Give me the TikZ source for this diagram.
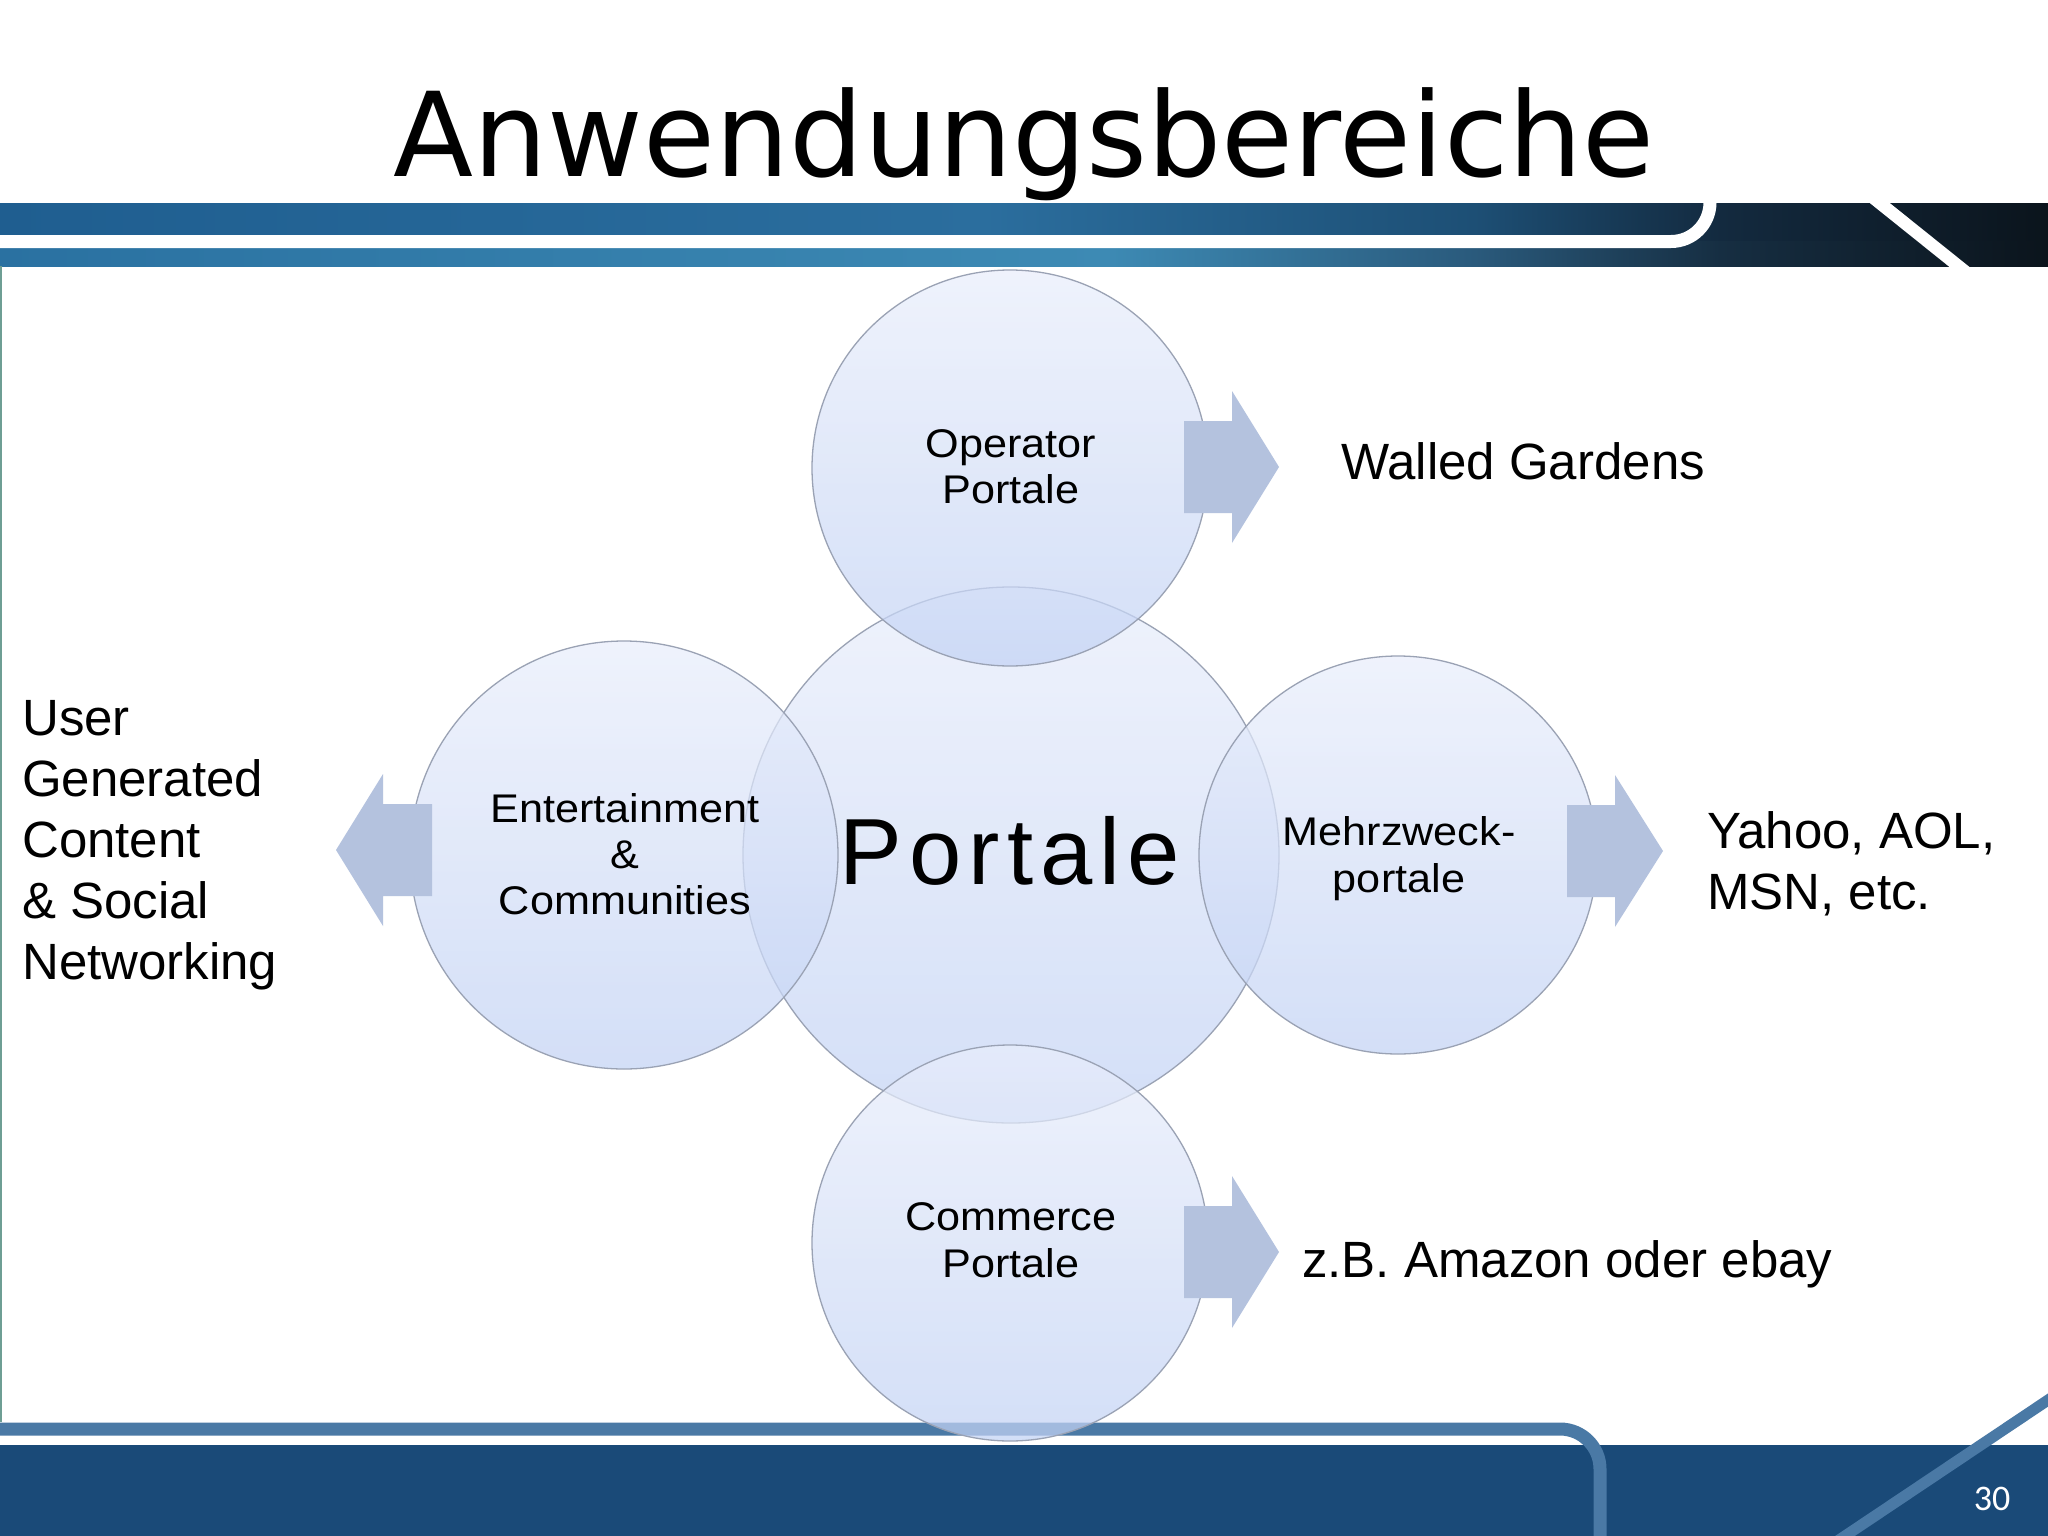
\documentclass[tikz,border=0pt]{standalone}
\usepackage{fontspec}
\setmainfont{Liberation Sans}
\newfontfamily\titlefont{DejaVu Sans}
\newfontfamily\circfont[FakeStretch=1.08]{Liberation Sans}
\newfontfamily\bigfont[LetterSpace=7.5]{Liberation Sans}
\newfontfamily\numfont{Carlito}
\definecolor{htA}{HTML}{1F5E90}
\definecolor{htB}{HTML}{2B6E9E}
\definecolor{htC}{HTML}{1D4F75}
\definecolor{htD}{HTML}{132A3F}
\definecolor{htE}{HTML}{0B141C}
\definecolor{hbA}{HTML}{2A71A1}
\definecolor{hbB}{HTML}{3D8AB4}
\definecolor{hbC}{HTML}{2A5A7C}
\definecolor{hbD}{HTML}{162E42}
\definecolor{hbE}{HTML}{0B141C}
\definecolor{footdark}{HTML}{1A4A78}
\definecolor{footline}{HTML}{4A79A5}
\definecolor{leftline}{HTML}{6E9E94}
\definecolor{bubtop}{HTML}{E9EEFB}
\definecolor{bubbot}{HTML}{C3D3F5}
\definecolor{bubline}{HTML}{9AA2B4}
\definecolor{arrowc}{HTML}{B4C2DE}
\pgfdeclarehorizontalshading{hdrtop}{100bp}{color(0bp)=(htA); color(25bp)=(htA); color(49bp)=(htB); color(61bp)=(htC); color(67bp)=(htD); color(75bp)=(htE); color(100bp)=(htE)}
\pgfdeclarehorizontalshading{hdrbot}{100bp}{color(0bp)=(hbA); color(25bp)=(hbA); color(52bp)=(hbB); color(61bp)=(hbC); color(67bp)=(hbD); color(75bp)=(hbE); color(100bp)=(hbE)}
\tikzset{
  bubble/.style={circle, draw=bubline, line width=1.3pt, top color=bubtop, bottom color=bubbot, fill opacity=0.72, inner sep=0pt, outer sep=0pt},
  blockarrow/.style={fill=arrowc},
  ctext/.style={anchor=base, inner sep=0pt, font=\circfont\fontsize{40}{48}\selectfont},
  rtext/.style={anchor=base west, inner sep=0pt, font=\fontsize{51}{61}\selectfont},
}
\begin{document}
\begin{tikzpicture}[x=1pt,y=-1pt]
\useasboundingbox (0,0) rectangle (2048,1536);
\fill[white] (0,0) rectangle (2048,1536);
% header
\shade[shading=hdrtop] (0,203) rectangle (2048,241.5);
\shade[shading=hdrbot] (0,241.5) rectangle (2048,266);
\draw[white, line width=13pt, rounded corners=39pt] (-10,241.5) -- (1710,241.5) -- (1710,190);
\draw[white, line width=12.5pt] (1871,196) -- (1967,273);
% footer
\fill[footdark] (0,1445) rectangle (2048,1536);
\draw[footline, line width=13pt, rounded corners=40pt] (-10,1429) -- (1600,1429) -- (1600,1550);
\draw[footline, line width=11pt] (1830,1546) -- (2063,1390);
\draw[leftline, line width=2pt] (1,266) -- (1,1422);
% title
\node[anchor=base, inner sep=0pt, font=\titlefont\fontsize{117}{140}\selectfont] (title) at (1024,176) {Anwendungsbereiche};
\node[anchor=base, inner sep=0pt, text=white, font=\numfont\fontsize{36}{40}\selectfont] (pnum) at (1992,1510) {30};
% circles
\node[bubble, minimum size=536pt] (cen) at (1011,855) {};
\node[bubble, minimum size=428pt] (lef) at (624,855) {};
\node[bubble, minimum size=398pt] (rig) at (1398,855) {};
\node[bubble, minimum size=396pt] (top) at (1010,468) {};
\node[bubble, minimum size=396pt] (bot) at (1010,1243) {};
% block arrows
\fill[blockarrow] (1184,421) -- (1232,421) -- (1232,391) -- (1279,467) -- (1232,543) -- (1232,513) -- (1184,513) -- cycle;
\fill[blockarrow] (1567,805) -- (1615,805) -- (1615,775) -- (1663,851) -- (1615,927) -- (1615,897) -- (1567,897) -- cycle;
\fill[blockarrow] (1184,1206) -- (1232,1206) -- (1232,1176) -- (1279,1252) -- (1232,1328) -- (1232,1298) -- (1184,1298) -- cycle;
\fill[blockarrow] (432,804) -- (383,804) -- (383,774) -- (336,850) -- (383,926) -- (383,896) -- (432,896) -- cycle;
% circle texts
\node[ctext] (op1) at (1011,457) {Operator};
\node[ctext] (op2) at (1011,503) {Portale};
\node[ctext] (en1) at (625,822) {Entertainment};
\node[ctext] (en2) at (625,868) {\&};
\node[ctext] (en3) at (625,914) {Communities};
\node[ctext] (me1) at (1399,845) {Mehrzweck-};
\node[ctext] (me2) at (1399,892) {portale};
\node[ctext] (co1) at (1011,1230) {Commerce};
\node[ctext] (co2) at (1011,1277) {Portale};
\node[anchor=base, inner sep=0pt, font=\bigfont\fontsize{94}{110}\selectfont] (big) at (1010,884) {Portale};
% outer texts
\node[rtext] (wg) at (1341,479) {Walled Gardens};
\node[rtext] (ya1) at (1707,848) {Yahoo, AOL,};
\node[rtext] (ya2) at (1707,909) {MSN, etc.};
\node[rtext] (zb) at (1302,1277) {z.B. Amazon oder ebay};
\node[rtext] (u1) at (22,735) {User};
\node[rtext] (u2) at (22,796) {Generated};
\node[rtext] (u3) at (22,857) {Content};
\node[rtext] (u4) at (22,918) {\& Social};
\node[rtext] (u5) at (22,979) {Networking};
\end{tikzpicture}
\end{document}
